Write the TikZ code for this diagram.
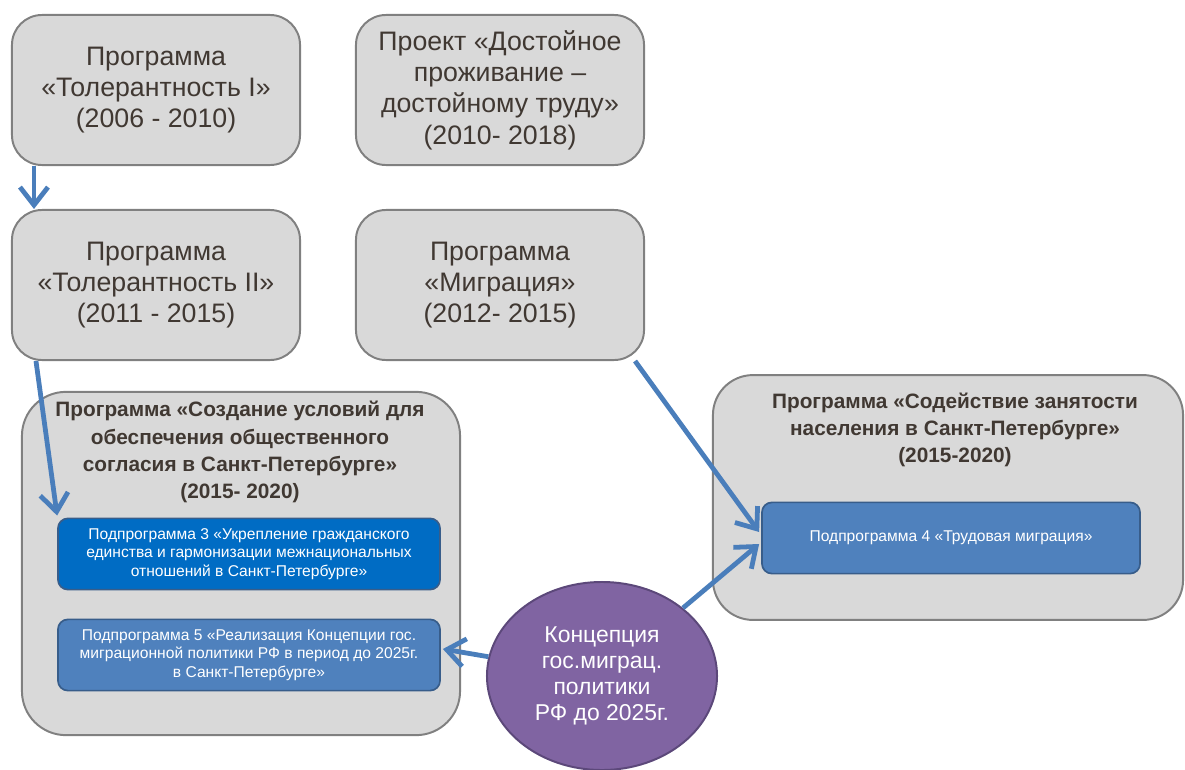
\documentclass[tikz,border=0pt]{standalone}
\usepackage{fontspec}
\setmainfont{Liberation Sans}
\usepackage{tikz}
\usetikzlibrary{calc,shapes,positioning}
\usetikzlibrary{arrows.meta}

\definecolor{boxgray}{RGB}{217,217,217}
\definecolor{edgegray}{RGB}{128,128,128}
\definecolor{txtgray}{RGB}{64,56,50}
\definecolor{subdark}{RGB}{0,108,196}
\definecolor{sublight}{RGB}{79,129,189}
\definecolor{subedge}{RGB}{56,93,138}
\definecolor{arrblue}{RGB}{74,126,187}
\definecolor{konzfill}{RGB}{128,100,162}
\definecolor{konzedge}{RGB}{92,72,122}

\begin{document}
\begin{tikzpicture}[x=0.025cm,y=-0.025cm]
    \tikzstyle{pnode} = [line width=1.4pt, draw=edgegray, fill=boxgray, rectangle, rounded corners = 0.75cm, minimum width = 7.2cm, minimum height = 3.75cm, align=center, text=txtgray, font=\fontsize{19}{22.3}\selectfont]
    \tikzstyle{bignode} = [line width=1.4pt, draw=edgegray, fill=boxgray, rectangle, rounded corners = 1.1cm]
    \tikzstyle{tnode} = [align=center, text=txtgray, font=\bfseries\fontsize{14.8}{19.3}\selectfont]
    \tikzstyle{snode} = [line width=1.2pt, draw=subedge, rectangle, rounded corners = 0.25cm, minimum width = 9.55cm, minimum height = 1.78cm, align=center, text=white, font=\fontsize{11.1}{13}\selectfont]
    \tikzstyle{arr} = [-{Straight Barb[length=4.5mm,width=7mm]}, line width=3.4pt, draw=arrblue]

    \useasboundingbox (0,0) rectangle (1185,770);

    % top row
    \node[pnode] (tol1) at (156,90) {Программа\\«Толерантность I»\\(2006 - 2010)};
    \node[pnode] (proj) at (500,90) {Проект «Достойное\\проживание –\\достойному труду»\\(2010- 2018)};
    \node[pnode] (tol2) at (156,285) {Программа\\«Толерантность II»\\(2011 - 2015)};
    \node[pnode] (migr) at (500,285) {Программа\\«Миграция»\\(2012- 2015)};

    % big boxes
    \node[bignode, minimum width = 10.95cm, minimum height = 8.58cm] (soglas) at (241,563.5) {};
    \node[tnode] (soglasT) at (240,452) {Программа «Создание условий для\\обеспечения общественного\\согласия в Санкт-Петербурге»\\(2015- 2020)};
    \node[snode, fill=subdark] (sub3) at (249,554) {Подпрограмма 3 «Укрепление гражданского\\единства и гармонизации межнациональных\\отношений в Санкт-Петербурге»};
    \node[snode, fill=sublight] (sub5) at (249,655) {Подпрограмма 5 «Реализация Концепции гос.\\миграционной политики РФ в период до 2025г.\\в Санкт-Петербурге»};

    \node[bignode, minimum width = 11.75cm, minimum height = 6.12cm, rounded corners = 1cm] (zanyat) at (948,497.5) {};
    \node[tnode] (zanyatT) at (955,430) {Программа «Содействие занятости\\населения в Санкт-Петербурге»\\(2015-2020)};
    \node[snode, fill=sublight, minimum width = 9.45cm] (sub4) at (951,538) {Подпрограмма 4 «Трудовая миграция»};

    \node[ellipse, line width=1.4pt, draw=konzedge, fill=konzfill, minimum width = 5.75cm, minimum height = 4.7cm, align=center, text=white, font=\fontsize{16.3}{18.6}\selectfont] (konz) at (602,676) {Концепция\\гос.миграц.\\политики\\РФ до 2025г.};

    \draw[arr] ($(tol1.south west)+(23,0)$) -- ($(tol2.north west)+(23,0)$);
    \draw[arr] ($(tol2.south west)+(25,0)$) -- ($(sub3.north west)+(0,-2)$);
    \draw[arr] ($(migr.south east)+(-10,0)$) -- ($(sub4.west)+(-2,-6)$);
    \draw[arr] (konz) -- ($(sub4.west)+(-2,6)$);
    \draw[arr] (konz) -- ($(sub5.east)+(2,-6)$);
\end{tikzpicture}
\end{document}
